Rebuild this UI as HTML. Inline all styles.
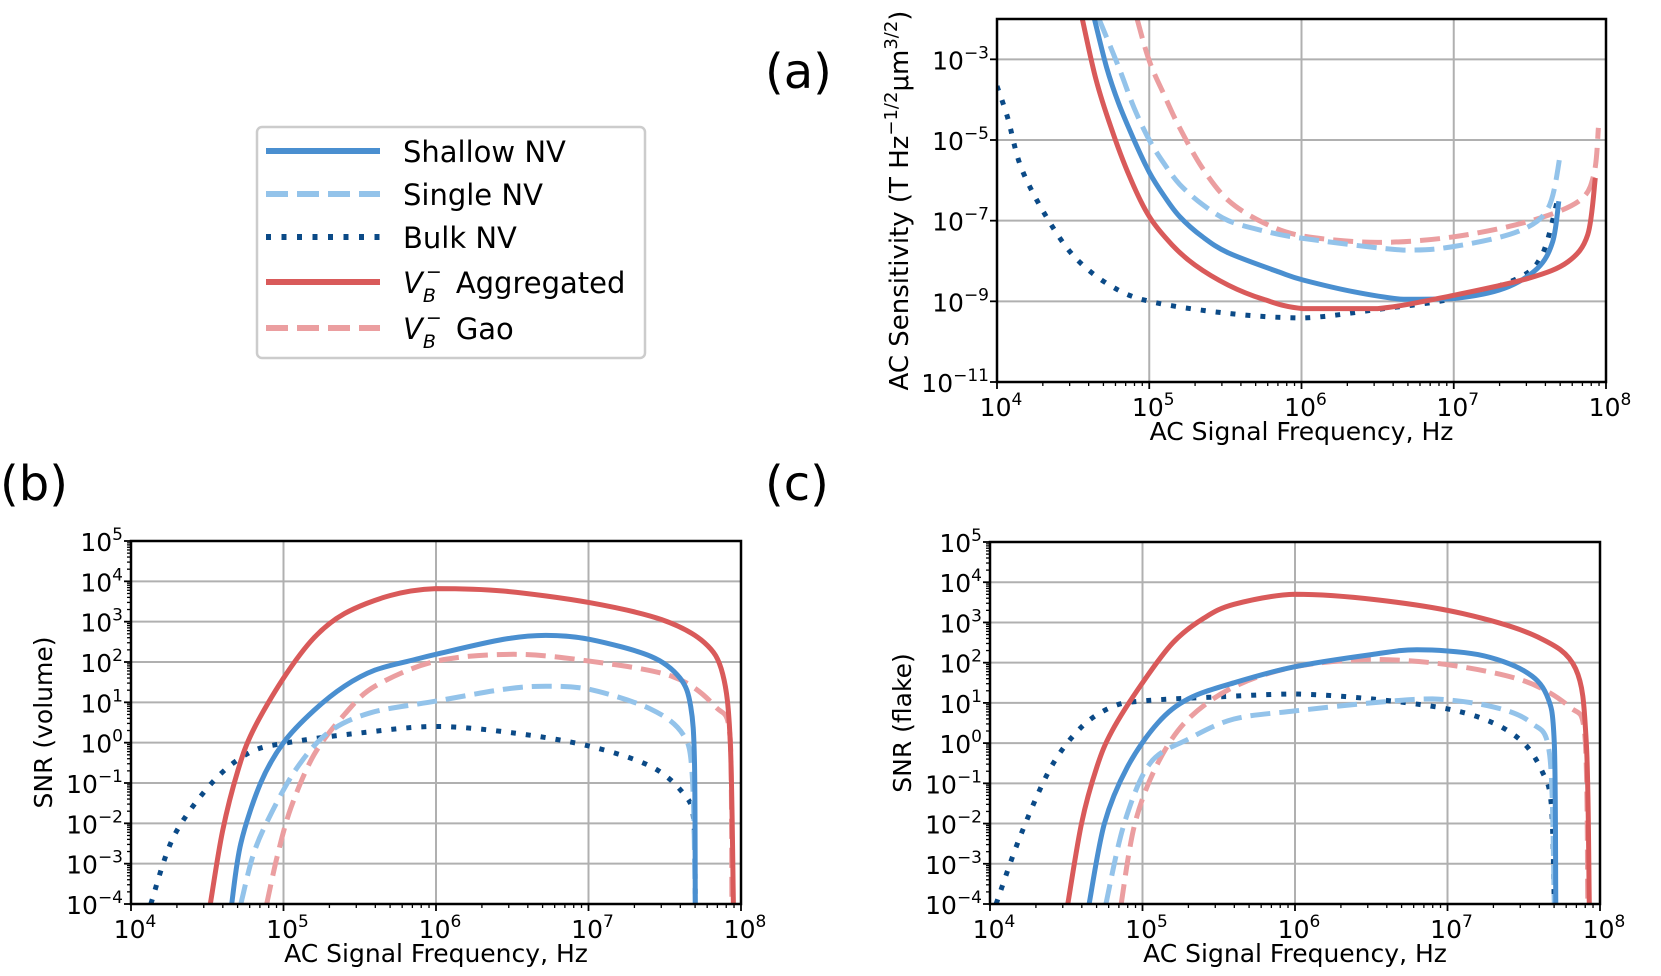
<!DOCTYPE html>
<html><head><meta charset="utf-8">
<style>
html,body{margin:0;padding:0;background:#fff;}
svg{display:block;font-family:"DejaVu Sans","Liberation Sans",sans-serif;}
</style></head>
<body>
<svg id="fig" width="1661" height="976" viewBox="0 0 1661 976" xmlns="http://www.w3.org/2000/svg">
<defs>
<clipPath id="clipA"><rect x="997" y="19" width="609" height="363"/></clipPath>
<clipPath id="clipB"><rect x="131" y="541" width="610" height="363"/></clipPath>
<clipPath id="clipC"><rect x="990" y="542" width="610" height="362"/></clipPath>
</defs>
<text x="765" y="88" font-size="48">(a)</text>
<text x="0" y="500" font-size="48">(b)</text>
<text x="765" y="500" font-size="48">(c)</text>
<g id="legend">
<rect x="257" y="127" width="388" height="231" rx="5" fill="#fff" stroke="#cccccc" stroke-width="2.5"/>
</g>
</svg>
<script>
// ---------- data (log10 frequency, log10 value) ----------
const seriesNames = ["Shallow NV","Single NV","Bulk NV","VB Aggregated","VB Gao"];
// Panel (a): AC sensitivity
const aShallowX = [4.64,4.72,4.8,4.9,5.0,5.1,5.2,5.35,5.52,5.85,6.01,6.34,6.67,7.0,7.33,7.55,7.65,7.69];
const aShallowY = [-2.0,-3.2,-4.1,-5.0,-5.8,-6.4,-6.9,-7.4,-7.8,-8.27,-8.47,-8.76,-8.95,-8.93,-8.68,-8.18,-7.52,-6.52];
const aSingleX = [4.67,4.8,4.9,5.0,5.1,5.2,5.35,5.52,5.75,6.01,6.67,7.0,7.42,7.62,7.7];
const aSingleY = [-2.0,-3.2,-4.2,-5.0,-5.6,-6.1,-6.6,-7.0,-7.25,-7.44,-7.73,-7.64,-7.27,-6.69,-5.36];
const aBulkX = [4.0,4.07,4.16,4.33,4.51,4.74,5.0,5.52,6.01,6.5,7.0,7.42,7.58,7.68];
const aBulkY = [-3.66,-4.45,-5.7,-6.94,-7.9,-8.6,-9.0,-9.3,-9.41,-9.2,-8.93,-8.43,-7.85,-6.52];
const aAggX = [4.56,4.65,4.75,4.87,5.0,5.15,5.3,5.52,5.75,6.01,6.5,7.0,7.49,7.75,7.88,7.93];
const aAggY = [-2.0,-3.5,-4.7,-5.9,-6.9,-7.6,-8.1,-8.6,-8.95,-9.18,-9.18,-8.85,-8.43,-8.02,-7.35,-5.94];
const aGaoX = [4.92,5.0,5.1,5.2,5.35,5.52,5.75,6.01,6.5,7.0,7.49,7.82,7.92,7.95];
const aGaoY = [-2.0,-3.04,-3.9,-4.7,-5.7,-6.5,-7.05,-7.38,-7.54,-7.4,-7.02,-6.52,-5.86,-4.7];
// Panel (b): SNR (volume)
const bShallowX = [4.66,4.72,4.85,5.0,5.2,5.4,5.6,5.85,6.0,6.44,6.72,7.01,7.41,7.6,7.67,7.695,7.7];
const bShallowY = [-4,-2.5,-1.0,0,0.8,1.4,1.8,2.05,2.19,2.56,2.66,2.56,2.14,1.6,0.9,-0.5,-4];
const bSingleX = [4.72,4.8,4.9,5.08,5.29,5.57,6.0,6.44,6.72,7.01,7.41,7.62,7.68,7.7];
const bSingleY = [-4,-2.8,-1.9,-0.67,0.24,0.74,1.03,1.32,1.4,1.32,0.83,0.2,-0.8,-4];
const bBulkX = [4.13,4.28,4.53,4.77,5.01,5.5,6.0,6.51,7.01,7.41,7.62,7.69,7.7];
const bBulkY = [-4,-2.33,-1.0,-0.26,-0.01,0.24,0.4,0.24,-0.09,-0.59,-1.25,-1.91,-4];
const bAggX = [4.52,4.6,4.7,4.8,5.0,5.2,5.4,5.7,6.0,6.44,7.01,7.48,7.76,7.88,7.93,7.95];
const bAggY = [-4,-2.2,-0.7,0.3,1.6,2.6,3.2,3.65,3.82,3.76,3.47,3.05,2.48,1.7,0,-4];
const bGaoX = [4.89,4.96,5.05,5.2,5.4,5.6,6.0,6.51,7.01,7.55,7.83,7.93,7.94];
const bGaoY = [-4,-2.8,-1.6,-0.3,0.7,1.4,2.02,2.19,2.02,1.64,0.9,0.08,-4];
// Panel (c): SNR (flake)
const cShallowX = [4.65,4.75,4.9,5.1,5.3,5.6,6.0,6.5,6.8,7.2,7.5,7.65,7.7,7.71];
const cShallowY = [-4,-2,-0.6,0.5,1.1,1.5,1.9,2.2,2.32,2.2,1.8,1.2,0,-4];
const cSingleX = [4.76,4.88,5.05,5.3,5.6,6.0,6.5,6.9,7.3,7.55,7.67,7.7];
const cSingleY = [-4,-2,-0.5,0.1,0.6,0.8,1.0,1.1,0.9,0.5,-0.3,-4];
const cBulkX = [4.04,4.2,4.4,4.6,4.8,5.0,5.5,6.0,6.5,7.0,7.3,7.5,7.62,7.68,7.7];
const cBulkY = [-4,-2.3,-0.6,0.4,0.9,1.05,1.15,1.22,1.1,0.85,0.5,0,-0.7,-1.5,-4];
const cAggX = [4.51,4.6,4.7,4.8,5.0,5.2,5.4,5.6,6.0,6.54,7.1,7.59,7.84,7.91,7.93];
const cAggY = [-4,-2,-0.6,0.3,1.5,2.5,3.1,3.45,3.7,3.56,3.22,2.64,1.85,0.01,-4];
const cGaoX = [4.86,4.95,5.1,5.3,5.6,6.0,6.5,7.0,7.5,7.8,7.9,7.92];
const cGaoY = [-4,-2,-0.5,0.6,1.4,1.9,2.08,1.95,1.55,0.9,0.2,-4];
const xTicks = [4,5,6,7,8];
const aYTicks = [-11,-9,-7,-5,-3];
const snrYTicks = [-4,-3,-2,-1,0,1,2,3,4,5];

const NS="http://www.w3.org/2000/svg";
const svg=document.getElementById('fig');
function mk(tag,attrs,parent){const e=document.createElementNS(NS,tag);for(const k in attrs)e.setAttribute(k,attrs[k]);(parent||svg).appendChild(e);return e;}

const styles={
 "Shallow NV":{c:"#4a8fd0",d:null},
 "Single NV":{c:"#93c3ea",d:"20 9"},
 "Bulk NV":{c:"#0b4a87",d:"5 10"},
 "VB Aggregated":{c:"#d95a5a",d:null},
 "VB Gao":{c:"#eb9ea0",d:"20 9"}
};

function clamp(v,a,b){const lo=Math.min(a,b),hi=Math.max(a,b);return Math.max(lo,Math.min(hi,v));}
function pathFrom(xs,ys,sx,sy){
  const p=xs.map((x,i)=>[sx(x),sy(ys[i])]);
  let d="M"+p[0][0].toFixed(1)+","+p[0][1].toFixed(1);
  for(let i=0;i<p.length-1;i++){
    const p0=p[i-1]||p[i],p1=p[i],p2=p[i+1],p3=p[i+2]||p[i+1];
    const t=0.16;
    const c1=[clamp(p1[0]+(p2[0]-p0[0])*t,p1[0],p2[0]),clamp(p1[1]+(p2[1]-p0[1])*t,p1[1],p2[1])];
    const c2=[clamp(p2[0]-(p3[0]-p1[0])*t,p1[0],p2[0]),clamp(p2[1]-(p3[1]-p1[1])*t,p1[1],p2[1])];
    d+=" C"+c1[0].toFixed(1)+","+c1[1].toFixed(1)+" "+c2[0].toFixed(1)+","+c2[1].toFixed(1)+" "+p2[0].toFixed(1)+","+p2[1].toFixed(1);
  }
  return d;
}

function tickLabel(g,x,y,exp,anchor){
  const t=mk('text',{x:x,y:y,'font-size':25,'text-anchor':anchor,fill:'#000'},g);
  t.appendChild(document.createTextNode('10'));
  const s=mk('tspan',{'font-size':17,dy:-11},t);
  s.textContent=(exp<0?'\u2212':'')+Math.abs(exp);
  return t;
}

function panel(id,L,T,R,B,ymin,ymax,yTicks,minorY,series,ylabel,clip,labelX){
  const g=mk('g',{});
  
  
  const sx=v=>L+(v-4)/4*(R-L);
  const sy=v=>B-(v-ymin)/(ymax-ymin)*(B-T);
  xTicks.forEach(v=>{const l=mk('line',{x1:sx(v),x2:sx(v),y1:T,y2:B,stroke:'#b0b0b0','stroke-width':2},g);
    });
  yTicks.forEach(v=>{const l=mk('line',{x1:L,x2:R,y1:sy(v),y2:sy(v),stroke:'#b0b0b0','stroke-width':2},g);
    });
  const sg=mk('g',{'clip-path':'url(#'+clip+')'},g);
  series.forEach(s=>{
    const st=styles[s.name];
    const p=mk('path',{d:pathFrom(s.x,s.y,sx,sy),fill:'none',stroke:st.c,'stroke-width':5,'stroke-linejoin':'round'},sg);
    if(st.d)p.setAttribute('stroke-dasharray',st.d);
    
    
  });
  const f=mk('rect',{x:L,y:T,width:R-L,height:B-T,fill:'none',stroke:'#000','stroke-width':2.5},g);
  
  for(let dec=4;dec<8;dec++)for(let m=2;m<10;m++){const v=dec+Math.log10(m);
    mk('line',{x1:sx(v),x2:sx(v),y1:B,y2:B+4,stroke:'#000','stroke-width':1.3},g);}
  xTicks.forEach(v=>{mk('line',{x1:sx(v),x2:sx(v),y1:B,y2:B+7,stroke:'#000','stroke-width':1.8},g);
    const t=tickLabel(g,sx(v)+4,B+34,v,'middle');
    });
  if(minorY){for(let dec=ymin;dec<ymax;dec++)for(let m=2;m<10;m++){const v=dec+Math.log10(m);
    mk('line',{x1:L-4,x2:L,y1:sy(v),y2:sy(v),stroke:'#000','stroke-width':1.3},g);}}
  yTicks.forEach(v=>{mk('line',{x1:L-7,x2:L,y1:sy(v),y2:sy(v),stroke:'#000','stroke-width':1.8},g);
    const t=tickLabel(g,L-8,sy(v)+10,v,'end');
    });
  const xl=mk('text',{x:(L+R)/2,y:B+58,'font-size':25,'text-anchor':'middle'},g);
  xl.textContent='AC Signal Frequency, Hz';
  
  const yl=mk('text',{x:labelX,y:(T+B)/2,'font-size':25,'text-anchor':'middle',transform:'rotate(-90 '+labelX+' '+(T+B)/2+')'},g);
  
  return yl;
}

function S(n,x,y){return {name:n,x:x,y:y};}
const ylA=panel('a',997,19,1606,382,-11,-2,aYTicks,false,[
  S("Bulk NV",aBulkX,aBulkY),S("VB Gao",aGaoX,aGaoY),S("Single NV",aSingleX,aSingleY),
  S("Shallow NV",aShallowX,aShallowY),S("VB Aggregated",aAggX,aAggY)],'','clipA',908);
ylA.setAttribute('font-size','26');
ylA.appendChild(document.createTextNode('AC Sensitivity (T Hz'));
let ts=mk('tspan',{'font-size':18,dy:-11},ylA);ts.textContent='\u22121/2';
ts=mk('tspan',{dy:11},ylA);ts.textContent='\u03bcm';
ts=mk('tspan',{'font-size':18,dy:-11},ylA);ts.textContent='3/2';
ts=mk('tspan',{dy:11},ylA);ts.textContent=')';

const ylB=panel('b',131,541,741,904,-4,5,snrYTicks,true,[
  S("Bulk NV",bBulkX,bBulkY),S("VB Gao",bGaoX,bGaoY),S("Single NV",bSingleX,bSingleY),
  S("Shallow NV",bShallowX,bShallowY),S("VB Aggregated",bAggX,bAggY)],'','clipB',52);
ylB.textContent='SNR (volume)';
const ylC=panel('c',990,542,1600,904,-4,5,snrYTicks,true,[
  S("Bulk NV",cBulkX,cBulkY),S("VB Gao",cGaoX,cGaoY),S("Single NV",cSingleX,cSingleY),
  S("Shallow NV",cShallowX,cShallowY),S("VB Aggregated",cAggX,cAggY)],'','clipC',911);
ylC.textContent='SNR (flake)';

const lg=document.getElementById('legend');
const rowsY=[151,194,237,282,328];
seriesNames.forEach((n,i)=>{
  const st=styles[n];const y=rowsY[i];
  const ln=mk('line',{x1:266,x2:380,y1:y,y2:y,stroke:st.c,'stroke-width':6},lg);
  if(st.d)ln.setAttribute('stroke-dasharray',st.d==="5 10"?"5 10.5":"22 9");
  
  const t=mk('text',{x:403,y:y+11,'font-size':29},lg);
  
  if(n.startsWith('VB')){
    const v=mk('tspan',{'font-style':'italic'},t);v.textContent='V';
    const b=mk('tspan',{'font-size':19,dy:9,'font-style':'italic'},t);b.textContent='B';
    const m=mk('tspan',{'font-size':19,dx:-10,dy:-24},t);m.textContent='\u2212';
    const r=mk('tspan',{dy:15,dx:14},t);r.textContent=n.slice(3);
  } else t.textContent=n;
});
</script>
</body></html>
